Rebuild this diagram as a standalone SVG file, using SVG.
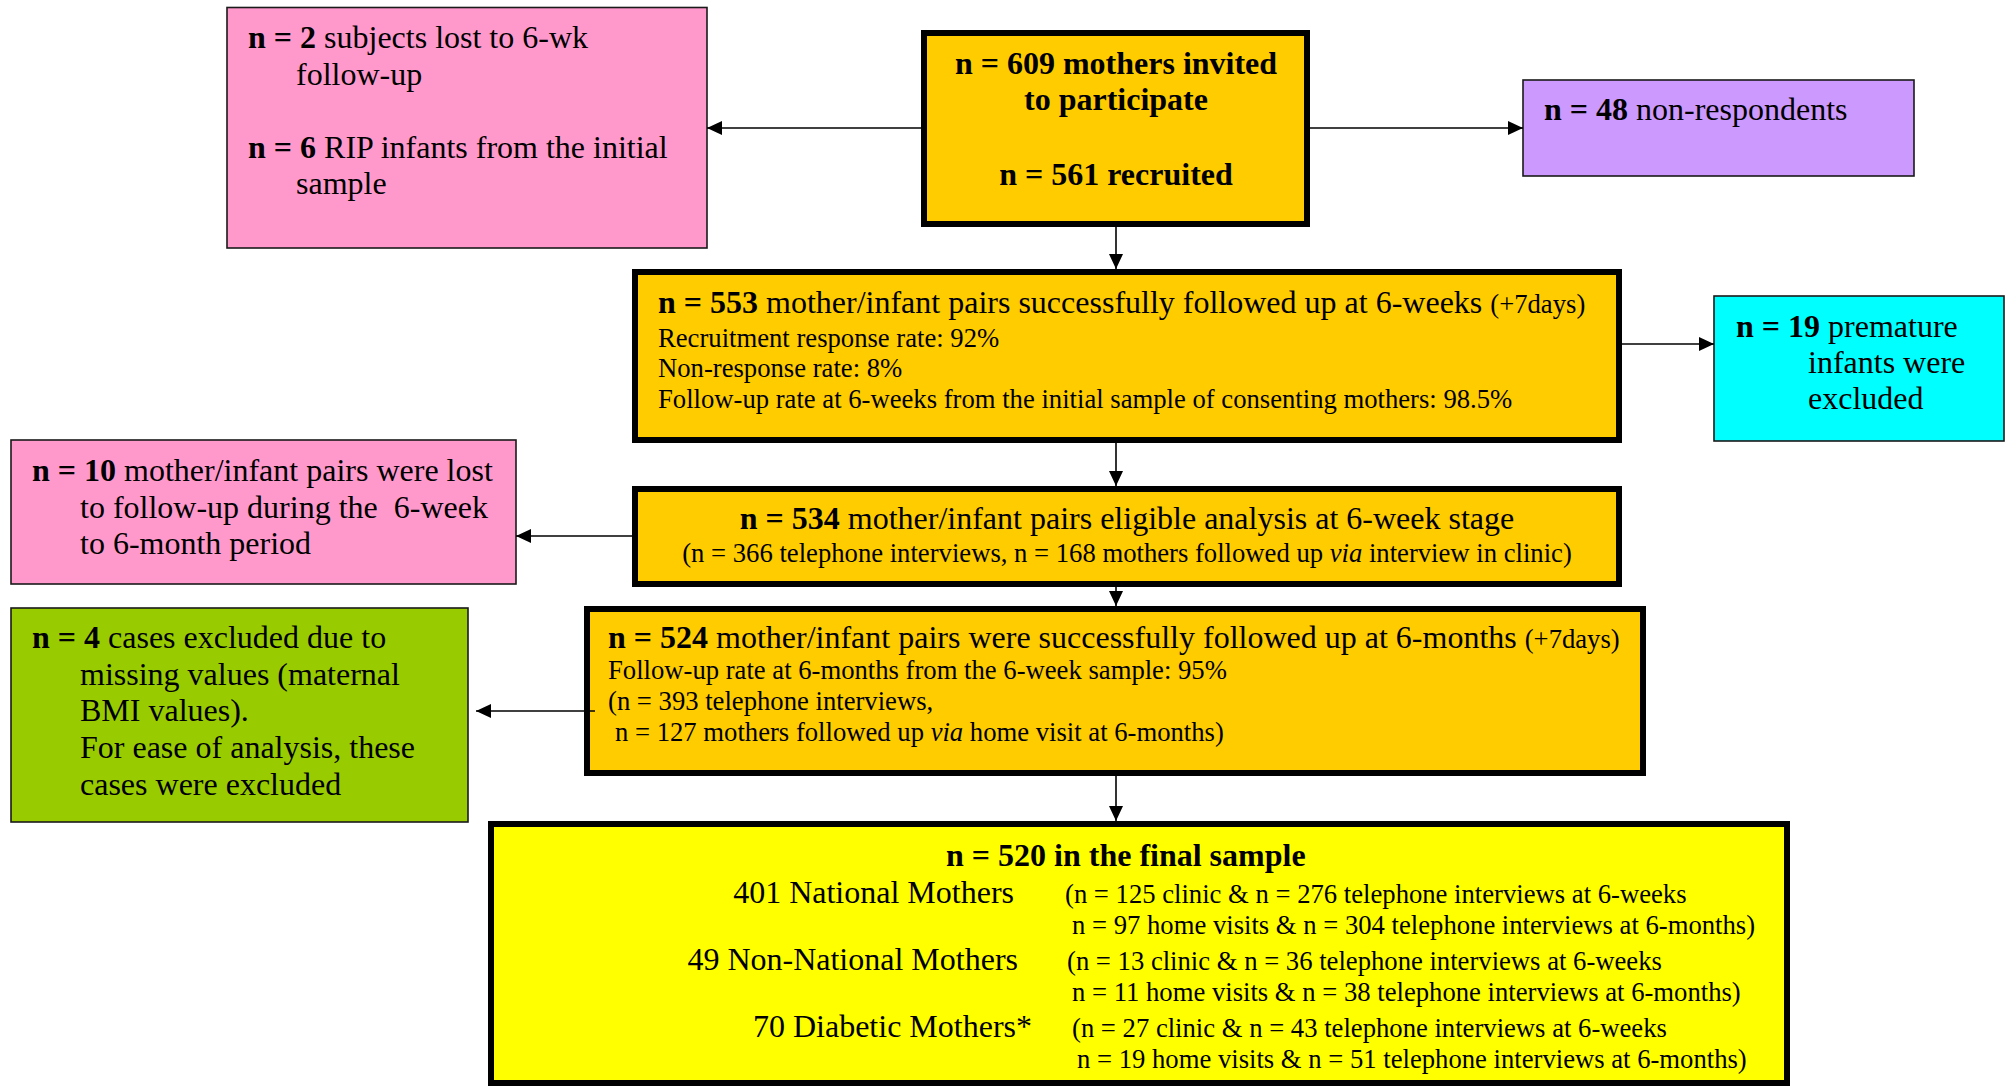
<svg xmlns="http://www.w3.org/2000/svg" width="2007" height="1087" viewBox="0 0 2007 1087">
<style>
.thin{stroke:#1a1a1a;stroke-width:1.6}
.thick{stroke:#000;stroke-width:6}
text{font-family:"Liberation Serif","Times New Roman",serif;fill:#000}
.l{font-size:32px}
.s{font-size:26.67px}
.b{font-weight:bold}
.i{font-style:italic}
.conn{stroke:#000;stroke-width:1.6;fill:none;marker-end:url(#ah)}
</style>
<defs>
<marker id="ah" markerUnits="userSpaceOnUse" markerWidth="15" markerHeight="14" refX="15" refY="7" orient="auto">
<path d="M0,0 L15,7 L0,14 z" fill="#000"/>
</marker>
</defs>
<rect width="2007" height="1087" fill="#fff"/>

<g id="lost-6wk">
<rect class="thin" x="227" y="7.5" width="480" height="240.5" fill="#FF99CC"/>
<text class="l" x="248" y="48"><tspan class="b">n = 2</tspan> subjects lost to 6-wk</text>
<text class="l" x="296" y="84.5">follow-up</text>
<text class="l" x="248" y="158"><tspan class="b">n = 6</tspan> RIP infants from the initial</text>
<text class="l" x="296" y="194">sample</text>
</g>

<g id="invited">
<rect class="thick" x="924" y="33" width="383" height="191" fill="#FFCC00"/>
<text class="l b" x="1116" y="74" text-anchor="middle">n = 609 mothers invited</text>
<text class="l b" x="1116" y="110" text-anchor="middle">to participate</text>
<text class="l b" x="1116" y="185" text-anchor="middle">n = 561 recruited</text>
</g>

<g id="non-respondents">
<rect class="thin" x="1523" y="80" width="391" height="96" fill="#CC99FF"/>
<text class="l" x="1544" y="120"><tspan class="b">n = 48</tspan> non-respondents</text>
</g>

<g id="followed-6wk">
<rect class="thick" x="635" y="272" width="984" height="168" fill="#FFCC00"/>
<text class="l" x="658" y="313"><tspan class="b">n = 553</tspan> mother/infant pairs successfully followed up at 6-weeks <tspan class="s">(+7days)</tspan></text>
<text class="s" x="658" y="347">Recruitment response rate: 92%</text>
<text class="s" x="658" y="377">Non-response rate: 8%</text>
<text class="s" x="658" y="408">Follow-up rate at 6-weeks from the initial sample of consenting mothers: 98.5%</text>
</g>

<g id="premature">
<rect class="thin" x="1714" y="296" width="290" height="145" fill="#00FFFF"/>
<text class="l" x="1736" y="337"><tspan class="b">n = 19</tspan> premature</text>
<text class="l" x="1808" y="373">infants were</text>
<text class="l" x="1808" y="409">excluded</text>
</g>

<g id="lost-6mo">
<rect class="thin" x="11" y="440" width="505" height="144" fill="#FF99CC"/>
<text class="l" x="32" y="481"><tspan class="b">n = 10</tspan> mother/infant pairs were lost</text>
<text class="l" x="80" y="518" xml:space="preserve">to follow-up during the  6-week</text>
<text class="l" x="80" y="554">to 6-month period</text>
</g>

<g id="eligible-6wk">
<rect class="thick" x="635" y="489" width="984" height="95" fill="#FFCC00"/>
<text class="l" x="1127" y="529" text-anchor="middle"><tspan class="b">n = 534</tspan> mother/infant pairs eligible analysis at 6-week stage</text>
<text class="s" x="1127" y="562" text-anchor="middle">(n = 366 telephone interviews, n = 168 mothers followed up <tspan class="i">via</tspan> interview in clinic)</text>
</g>

<g id="missing-bmi">
<rect class="thin" x="11" y="608" width="457" height="214" fill="#99CC00"/>
<text class="l" x="32" y="648"><tspan class="b">n = 4</tspan> cases excluded due to</text>
<text class="l" x="80" y="684.5">missing values (maternal</text>
<text class="l" x="80" y="721">BMI values).</text>
<text class="l" x="80" y="758">For ease of analysis, these</text>
<text class="l" x="80" y="794.5">cases were excluded</text>
</g>

<g id="followed-6mo">
<rect class="thick" x="587" y="609" width="1056" height="164" fill="#FFCC00"/>
<text class="l" x="608" y="648"><tspan class="b">n = 524</tspan> mother/infant pairs were successfully followed up at 6-months <tspan class="s">(+7days)</tspan></text>
<text class="s" x="608" y="679">Follow-up rate at 6-months from the 6-week sample: 95%</text>
<text class="s" x="608" y="710">(n = 393 telephone interviews,</text>
<text class="s" x="615" y="741">n = 127 mothers followed up <tspan class="i">via</tspan> home visit at 6-months)</text>
</g>

<g id="final-sample">
<rect class="thick" x="491" y="824" width="1296" height="259" fill="#FFFF00"/>
<text class="l b" x="946" y="866">n = 520 in the final sample</text>
<text class="l" x="1014" y="903" text-anchor="end">401 National Mothers</text>
<text class="s" x="1065" y="903">(n = 125 clinic &amp; n = 276 telephone interviews at 6-weeks</text>
<text class="s" x="1072" y="934">n = 97 home visits &amp; n = 304 telephone interviews at 6-months)</text>
<text class="l" x="1018" y="970" text-anchor="end">49 Non-National Mothers</text>
<text class="s" x="1067" y="970">(n = 13 clinic &amp; n = 36 telephone interviews at 6-weeks</text>
<text class="s" x="1072" y="1001">n = 11 home visits &amp; n = 38 telephone interviews at 6-months)</text>
<text class="l" x="1032" y="1037" text-anchor="end">70 Diabetic Mothers*</text>
<text class="s" x="1072" y="1037">(n = 27 clinic &amp; n = 43 telephone interviews at 6-weeks</text>
<text class="s" x="1077" y="1068">n = 19 home visits &amp; n = 51 telephone interviews at 6-months)</text>
</g>

<g id="connectors">
<path class="conn" d="M921,128 L707,128"/>
<path class="conn" d="M1310,128 L1523,128"/>
<path class="conn" d="M1116,227 L1116,269"/>
<path class="conn" d="M1622,344 L1714,344"/>
<path class="conn" d="M1116,443 L1116,486"/>
<path class="conn" d="M632,536 L516,536"/>
<path class="conn" d="M1116,587 L1116,606"/>
<path class="conn" d="M595,711 L476,711"/>
<path class="conn" d="M1116,776 L1116,821"/>
</g>
</svg>
